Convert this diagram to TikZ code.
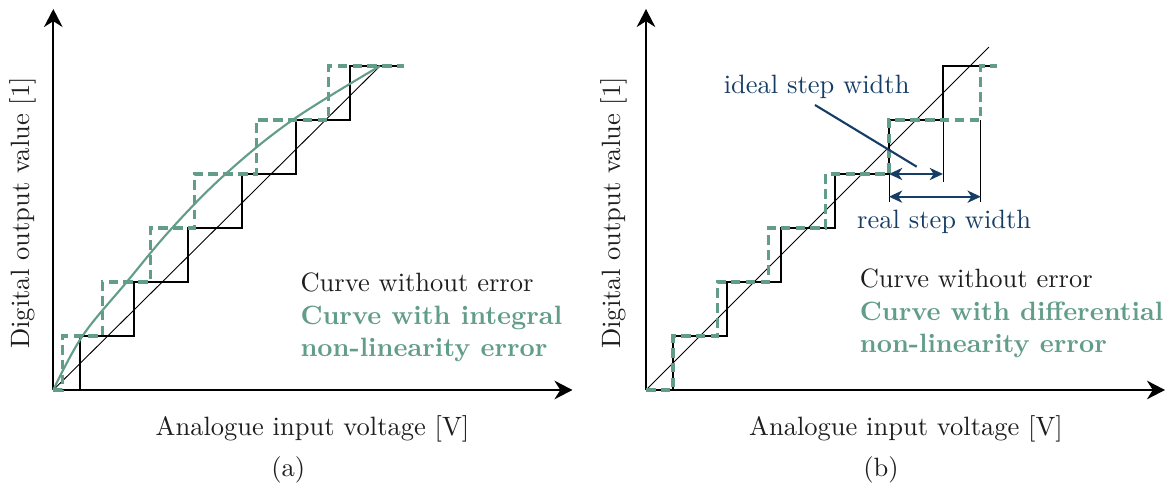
\documentclass[tikz,border=0pt]{standalone}
\usetikzlibrary{arrows.meta}
\definecolor{errgreen}{RGB}{98,157,138}
\definecolor{annblue}{RGB}{22,61,102}
\definecolor{txtblack}{RGB}{30,30,30}
\begin{document}
\begin{tikzpicture}[x=0.37736pt,y=-0.37736pt,
  axis/.style={line width=0.75pt, -{Stealth[length=6.8pt,width=7pt,inset=2.2pt]}},
  stair/.style={line width=0.9pt, line join=miter},
  errstair/.style={errgreen, line width=1.15pt, dash pattern=on 3.6pt off 2pt},
  idealline/.style={line width=0.35pt},
  errcurve/.style={errgreen, line width=0.8pt},
  extline/.style={line width=0.35pt},
  widtharrow/.style={annblue, line width=0.8pt,
    {Stealth[length=5pt,width=4.6pt,inset=1.5pt]}-{Stealth[length=5pt,width=4.6pt,inset=1.5pt]}},
  pointer/.style={annblue, line width=0.8pt},
  lbl/.style={inner sep=0pt, anchor=base west, font=\normalsize},
  legplain/.style={lbl, text=txtblack},
  legerr/.style={lbl, text=errgreen, font=\bfseries},
  annlbl/.style={lbl, text=annblue},
  axlbl/.style={inner sep=0pt, text=txtblack},
]
\useasboundingbox (0,0) rectangle (1175,486);

% ---------------- panel (a) ----------------
\coordinate (oa) at (53.3,390);
\coordinate (ya) at (53.3,9);
\coordinate (xa) at (572.5,390);
\draw[axis] (oa) -- (ya);
\draw[axis] (oa) -- (xa);

\begin{scope}[shift={(oa)}, x=20.377pt, y=20.377pt]
  \draw[idealline] (0,0) -- (6.05,6);
  \draw[stair] (0,0) -- (0.5,0) -- (0.5,1) -- (1.5,1) -- (1.5,2) -- (2.5,2) -- (2.5,3)
    -- (3.5,3) -- (3.5,4) -- (4.5,4) -- (4.5,5) -- (5.5,5) -- (5.5,6) -- (6.5,6);
  \draw[errstair] (0,0) -- (0.17,0) -- (0.17,1) -- (0.91,1) -- (0.91,2) -- (1.80,2) -- (1.80,3)
    -- (2.61,3) -- (2.61,4) -- (3.76,4) -- (3.76,5) -- (5.10,5) -- (5.10,6) -- (6.5,6);
  \draw[errcurve] plot[smooth, tension=0.6] coordinates
    {(0,0) (0.54,1) (1.36,2) (2.2,3) (3.19,4) (4.43,5) (6.05,6)};
\end{scope}

\node[axlbl, rotate=90] (yla) at (23.3,213) {Digital output value [1]};
\node[axlbl, anchor=base] (xla) at (312.5,435.5) {Analogue input voltage [V]};
\node[axlbl, anchor=base] (capa) at (288.3,476.5) {(a)};

\node[legplain] (lega1) at (300,291.7) {Curve without error};
\node[legerr] (lega2) at (300,324.2) {Curve with integral};
\node[legerr] (lega3) at (300,356.2) {non-linearity error};

% ---------------- panel (b) ----------------
\coordinate (ob) at (646,390);
\coordinate (yb) at (646,9);
\coordinate (xb) at (1165,390);
\draw[axis] (ob) -- (yb);
\draw[axis] (ob) -- (xb);

\begin{scope}[shift={(ob)}, x=20.377pt, y=20.377pt]
  \draw[idealline] (0,0) -- (6.35,6.35);
  \draw[stair] (0,0) -- (0.5,0) -- (0.5,1) -- (1.5,1) -- (1.5,2) -- (2.5,2) -- (2.5,3)
    -- (3.5,3) -- (3.5,4) -- (4.5,4) -- (4.5,5) -- (5.5,5) -- (5.5,6) -- (6.5,6);
  % extension lines
  \coordinate (e1t) at (4.5,4);   \coordinate (e1b) at (4.5,3.49);
  \coordinate (e2t) at (5.5,5);   \coordinate (e2b) at (5.5,3.86);
  \coordinate (e3t) at (6.2,5);   \coordinate (e3b) at (6.2,3.49);
  \draw[extline] (e1t) -- (e1b);
  \draw[extline] (e2t) -- (e2b);
  \draw[extline] (e3t) -- (e3b);
  \draw[errstair] (0,0) -- (0.5,0) -- (0.5,1) -- (1.32,1) -- (1.32,2) -- (2.26,2) -- (2.26,3)
    -- (3.33,3) -- (3.33,4) -- (4.5,4) -- (4.5,5) -- (6.2,5) -- (6.2,6) -- (6.5,6);
  % width arrows
  \coordinate (ia) at (4.5,4);    \coordinate (ib) at (5.5,4);
  \coordinate (ra) at (4.5,3.58); \coordinate (rb) at (6.2,3.58);
  \draw[widtharrow] (ia) -- (ib);
  \draw[widtharrow] (ra) -- (rb);
\end{scope}

\node[annlbl] (ideallbl) at (723.3,93.3) {ideal step width};
\node[annlbl] (reallbl) at (856.7,228.3) {real step width};
\coordinate (pstart) at (815,105);
\coordinate (pend) at (916.7,166.7);
\draw[pointer] (pstart) -- (pend);

\node[axlbl, rotate=90] (ylb) at (614,213) {Digital output value [1]};
\node[axlbl, anchor=base] (xlb) at (906,435.5) {Analogue input voltage [V]};
\node[axlbl, anchor=base] (capb) at (881,476.5) {(b)};

\node[legplain] (legb1) at (859.3,287.7) {Curve without error};
\node[legerr] (legb2) at (859.3,320.5) {Curve with differential};
\node[legerr] (legb3) at (859.3,352.5) {non-linearity error};
\end{tikzpicture}
\end{document}
